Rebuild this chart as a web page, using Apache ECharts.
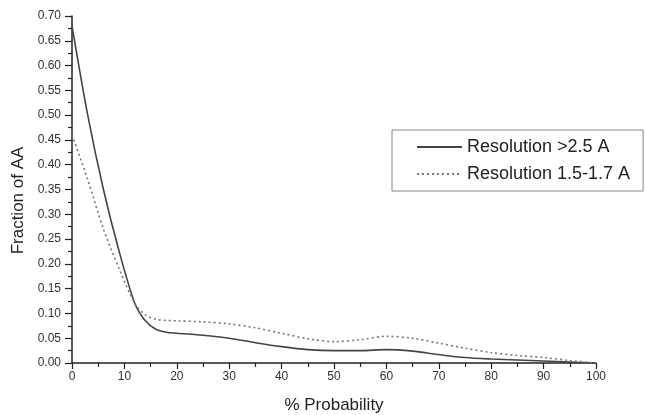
<!DOCTYPE html>
<html>
<head>
<meta charset="utf-8">
<script src="https://cdn.jsdelivr.net/npm/echarts@6/dist/echarts.min.js"></script>
<style>
  html, body { margin: 0; padding: 0; background: #fff; }
  #chart-container { width: 646px; height: 415px; }
</style>
</head>
<body>
<div id="chart-container"></div>
<script>
// data
var xHigh = [0, 3, 6, 9, 12, 14, 16, 18, 20, 25, 30, 35, 40, 45, 50, 55, 60, 65, 70, 75, 80, 85, 90, 95, 100];
var yHigh = [0.68, 0.50, 0.35, 0.225, 0.12, 0.085, 0.068, 0.062, 0.060, 0.056, 0.050, 0.041, 0.033, 0.027, 0.025, 0.025, 0.027, 0.024, 0.017, 0.011, 0.008, 0.006, 0.004, 0.002, 0.0];
var xLow = [0, 3, 6, 9, 12, 14, 16, 18, 20, 25, 30, 35, 40, 45, 50, 55, 60, 65, 70, 75, 80, 85, 90, 95, 100];
var yLow = [0.46, 0.37, 0.27, 0.19, 0.12, 0.097, 0.088, 0.086, 0.085, 0.083, 0.079, 0.071, 0.060, 0.049, 0.043, 0.047, 0.054, 0.050, 0.040, 0.030, 0.021, 0.015, 0.011, 0.005, 0.0];
var seriesNames = ["Resolution >2.5 A", "Resolution 1.5-1.7 A"];

function pairs(xs, ys) {
  return xs.map(function (x, i) { return [x, ys[i]]; });
}

var chartDom = document.getElementById("chart-container");
var myChart = echarts.init(chartDom);

var axisText = { color: "#333", fontFamily: "Liberation Sans", fontSize: 12 };
var nameText = { color: "#222", fontFamily: "Liberation Sans", fontSize: 17 };

var option = {
  animation: false,
  backgroundColor: "#fff",
  grid: { left: 72, right: 50, top: 16, bottom: 52, outerBoundsMode: "none" },
  legend: {
    left: 392,
    top: 130,
    orient: "vertical",
    padding: [8, 13, 8, 24],
    itemWidth: 45,
    itemHeight: 16,
    itemGap: 9,
    borderColor: "#888",
    borderWidth: 1,
    itemStyle: { opacity: 0 },
    textStyle: { color: "#222", fontFamily: "Liberation Sans", fontSize: 18 },
    data: seriesNames
  },
  xAxis: {
    type: "value",
    min: 0,
    max: 100,
    interval: 10,
    name: "% Probability",
    nameLocation: "middle",
    nameGap: 34,
    nameTextStyle: nameText,
    axisLine: { lineStyle: { color: "#222", width: 1.5 } },
    axisTick: { length: 6, lineStyle: { color: "#222", width: 1.2 } },
    minorTick: { show: true, splitNumber: 2, length: 4, lineStyle: { color: "#222", width: 1.2 } },
    splitLine: { show: false },
    axisLabel: axisText
  },
  yAxis: {
    type: "value",
    min: 0,
    max: 0.7,
    interval: 0.05,
    name: "Fraction of AA",
    nameLocation: "middle",
    nameGap: 44,
    nameTextStyle: Object.assign({ padding: [0, 22, 0, 0] }, nameText),
    axisLine: { show: true, lineStyle: { color: "#222", width: 1.5 } },
    axisTick: { show: true, length: 7, lineStyle: { color: "#222", width: 1.2 } },
    minorTick: { show: true, splitNumber: 2, length: 4, lineStyle: { color: "#222", width: 1.2 } },
    splitLine: { show: false },
    axisLabel: Object.assign({ margin: 11, formatter: function (v) { return v.toFixed(2); } }, axisText)
  },
  series: [
    {
      name: seriesNames[0],
      type: "line",
      smooth: 0.3,
      showSymbol: false,
      symbol: "none",
      color: "#444",
      lineStyle: { color: "#444", width: 1.6, type: "solid" },
      data: pairs(xHigh, yHigh)
    },
    {
      name: seriesNames[1],
      type: "line",
      smooth: 0.3,
      showSymbol: false,
      symbol: "none",
      color: "#777",
      lineStyle: { color: "#777", width: 1.6, type: [2, 3] },
      data: pairs(xLow, yLow)
    }
  ]
};

myChart.setOption(option);
</script>
</body>
</html>
